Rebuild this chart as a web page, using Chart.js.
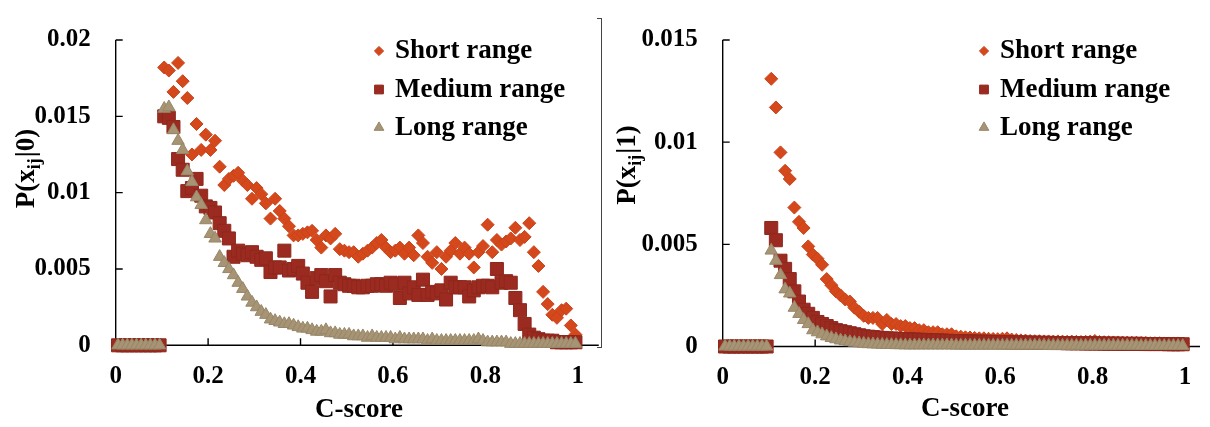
<!DOCTYPE html>
<html><head><meta charset="utf-8">
<script src="https://cdn.jsdelivr.net/npm/chart.js@4.4.1/dist/chart.umd.min.js"></script>
<style>
html,body{margin:0;padding:0;background:#fff;}
#wrap{position:relative;width:1210px;height:427px;overflow:hidden;background:#fff;}
.box{position:absolute;top:0;height:427px;}
#frame{position:absolute;left:597px;top:18px;width:4px;height:328px;border:1px solid #444;border-left:none;z-index:5;}
</style></head><body>
<div id="wrap">
<div class="box" style="left:0;width:600px"><canvas id="c0" width="600" height="427"></canvas></div>
<div class="box" style="left:600px;width:610px"><canvas id="c1" width="610" height="427"></canvas></div>
<div id="frame"></div>
</div>
<script>
// ---------- DATA ----------
const cScore = [0.005,0.015,0.025,0.035,0.045,0.055,0.065,0.075,0.085,0.095,
0.105,0.115,0.125,0.135,0.145,0.155,0.165,0.175,0.185,0.195,
0.205,0.215,0.225,0.235,0.245,0.255,0.265,0.275,0.285,0.295,
0.305,0.315,0.325,0.335,0.345,0.355,0.365,0.375,0.385,0.395,
0.405,0.415,0.425,0.435,0.445,0.455,0.465,0.475,0.485,0.495,
0.505,0.515,0.525,0.535,0.545,0.555,0.565,0.575,0.585,0.595,
0.605,0.615,0.625,0.635,0.645,0.655,0.665,0.675,0.685,0.695,
0.705,0.715,0.725,0.735,0.745,0.755,0.765,0.775,0.785,0.795,
0.805,0.815,0.825,0.835,0.845,0.855,0.865,0.875,0.885,0.895,
0.905,0.915,0.925,0.935,0.945,0.955,0.965,0.975,0.985,0.995];

const seriesLabels = ['Short range','Medium range','Long range'];

// P(x_ij | 0)
const leftShort = [0,0,0,0,0,0,0,0,0,0,
0.0182,0.0180,0.0166,0.0185,0.0173,0.0162,0.0125,0.0145,0.0128,0.0138,
0.0128,0.0134,0.0117,0.0105,0.0109,0.0111,0.0113,0.0108,0.0105,0.0096,
0.0103,0.0099,0.0093,0.0083,0.0096,0.0088,0.0083,0.0078,0.0072,0.0072,
0.0073,0.0074,0.0075,0.0069,0.0064,0.0072,0.0070,0.0073,0.0063,0.0062,
0.0061,0.0061,0.0058,0.0060,0.0062,0.0064,0.0067,0.0069,0.0064,0.0061,
0.0062,0.0064,0.0060,0.0064,0.0059,0.0072,0.0067,0.0058,0.0054,0.0061,
0.0050,0.0058,0.0062,0.0067,0.0060,0.0064,0.0060,0.0051,0.0061,0.0065,
0.0079,0.0061,0.0069,0.0066,0.0068,0.0070,0.0077,0.0069,0.0071,0.0080,
0.0061,0.0052,0.0035,0.0027,0.0020,0.0018,0.0023,0.0024,0.0013,0.0007];
const leftMedium = [0,0,0,0,0,0,0,0,0,0,
0.0150,0.0149,0.0143,0.0122,0.0115,0.0101,0.0103,0.0109,0.0098,0.0091,
0.0090,0.0087,0.0080,0.0075,0.0070,0.0058,0.0062,0.0060,0.0059,0.0061,
0.0058,0.0056,0.0057,0.0048,0.0051,0.0051,0.0062,0.0049,0.0050,0.0052,
0.0047,0.0041,0.0035,0.0044,0.0046,0.0042,0.0032,0.0046,0.0041,0.0040,
0.0039,0.0039,0.0038,0.0038,0.0039,0.0039,0.0040,0.0040,0.0039,0.0041,
0.0040,0.0031,0.0041,0.0034,0.0038,0.0033,0.0043,0.0033,0.0035,0.0034,
0.0036,0.0030,0.0041,0.0038,0.0038,0.0038,0.0032,0.0036,0.0038,0.0039,
0.0039,0.0038,0.0050,0.0041,0.0042,0.0041,0.0031,0.0023,0.0014,0.0007,
0.0005,0.0004,0.0003,0.0003,0.0003,0.0002,0.0002,0.0002,0.0002,0.0002];
const leftLong = [0,0,0,0,0,0,0,0,0,0,
0.0155,0.0156,0.0141,0.0134,0.0128,0.0114,0.0107,0.0097,0.0092,0.0082,
0.0073,0.0070,0.0058,0.0054,0.0050,0.0046,0.0041,0.0037,0.0032,0.0028,
0.0025,0.0022,0.0020,0.0017,0.0016,0.0015,0.0014,0.0014,0.0013,0.0012,
0.0011,0.0011,0.0010,0.0009,0.0009,0.0010,0.0008,0.0008,0.0007,0.0007,
0.0007,0.0006,0.0006,0.0006,0.0005,0.0006,0.0005,0.0005,0.0005,0.0005,
0.0004,0.0005,0.0004,0.0004,0.0004,0.0004,0.0004,0.0003,0.0004,0.0003,
0.0003,0.0003,0.0003,0.0003,0.0003,0.0003,0.0003,0.0003,0.0004,0.0003,
0.0002,0.0002,0.0002,0.0002,0.0002,0.0001,0.0001,0.0001,0.0001,0.0001,
0.0001,0.0001,0.0001,0.0001,0.0001,0.0001,0.0001,0.0001,0.0001,0.0001];

// P(x_ij | 1)
const rightShort = [0,0,0,0,0,0,0,0,0,0,
0.0131,0.0117,0.0095,0.0086,0.0082,0.0068,0.0061,0.0058,0.0049,0.0045,
0.0043,0.0040,0.0033,0.0030,0.0027,0.0025,0.0023,0.0022,0.0019,0.0017,
0.0015,0.0014,0.0014,0.0014,0.0011,0.0013,0.0011,0.0011,0.0010,0.0010,
0.0009,0.0009,0.0008,0.0008,0.0007,0.0007,0.0007,0.0006,0.0006,0.0006,
0.00050,0.00048,0.00045,0.00044,0.00042,0.00040,0.00040,0.00038,0.00037,0.00036,
0.00038,0.00040,0.00034,0.00032,0.00030,0.00029,0.00027,0.00026,0.00026,0.00025,
0.00025,0.00024,0.00025,0.00024,0.00023,0.00024,0.00023,0.00022,0.00023,0.00024,
0.00027,0.00022,0.00021,0.00021,0.00020,0.00020,0.00019,0.00019,0.00018,0.00018,
0.00017,0.00017,0.00016,0.00016,0.00016,0.00015,0.00015,0.00015,0.00015,0.00014];
const rightMedium = [0,0,0,0,0,0,0,0,0,0,
0.0058,0.0052,0.0042,0.0038,0.0033,0.0027,0.0022,0.0018,0.0016,0.0014,
0.0012,0.0011,0.0010,0.0009,0.0008,0.00075,0.0007,0.00065,0.0006,0.00055,
0.0005,0.00048,0.00046,0.00044,0.00042,0.0004,0.00039,0.00038,0.00037,0.00036,
0.00035,0.00034,0.00033,0.00032,0.00031,0.0003,0.0003,0.00029,0.00028,0.00027,
0.00026,0.00026,0.00025,0.00025,0.00024,0.00024,0.00023,0.00023,0.00022,0.00022,
0.00021,0.00021,0.0002,0.0002,0.0002,0.00019,0.00019,0.00019,0.00018,0.00018,
0.00018,0.00017,0.00017,0.00017,0.00016,0.00016,0.00016,0.00016,0.00015,0.00015,
0.00015,0.00015,0.00014,0.00014,0.00014,0.00014,0.00013,0.00013,0.00013,0.00013,
0.00013,0.00012,0.00012,0.00012,0.00012,0.00012,0.00011,0.00011,0.00011,0.00011];
const rightLong = [0,0,0,0,0,0,0,0,0,0,
0.0047,0.0042,0.0035,0.0028,0.0026,0.0019,0.0016,0.0013,0.0011,0.0008,
0.0007,0.0006,0.0005,0.00042,0.00036,0.0003,0.00026,0.00022,0.00019,0.00016,
0.00014,0.00012,0.00011,0.0001,0.00009,0.00008,0.00008,0.00007,0.00007,0.00006,
0.00006,0.00006,0.00006,0.00006,0.00006,0.00006,0.00006,0.00006,0.00006,0.00006,
0.00005,0.00005,0.00005,0.00005,0.00005,0.00005,0.00005,0.00005,0.00005,0.00005,
0.00005,0.00005,0.00005,0.00005,0.00005,0.00005,0.00005,0.00005,0.00005,0.00005,
0.00004,0.00004,0.00004,0.00004,0.00004,0.00004,0.00004,0.00004,0.00004,0.00004,
0.00004,0.00004,0.00004,0.00004,0.00004,0.00004,0.00004,0.00004,0.00004,0.00004,
0.00003,0.00003,0.00003,0.00003,0.00003,0.00003,0.00003,0.00003,0.00003,0.00003];

const xTickValues = [0,0.2,0.4,0.6,0.8,1];
const leftYTicks = [0,0.005,0.01,0.015,0.02];
const rightYTicks = [0,0.005,0.01,0.015];
const xTitle = 'C-score';
const leftYTitle = ['P(x','ij','|0)'];
const rightYTitle = ['P(x','ij','|1)'];

// ---------- STYLE ----------
const SERIF = "'Liberation Serif','Times New Roman',serif";
const colors = [
  {fill:'#D4481B', border:'#C8431A', style:'rectRot', r:6.5, lr:4.6},
  {fill:'#9B2B20', border:'#8E271D', style:'rect', r:9.2, lr:6.2},
  {fill:'#A69474', border:'#978668', style:'triangle', r:7.2, lr:5.6}
];
const fmt = v => String(Number(Number(v).toFixed(4)));

const decor = {
  id: 'decor',
  beforeDatasetsDraw(chart, args, o) {
    const ctx = chart.ctx, a = chart.chartArea, xs = chart.scales.x, ys = chart.scales.y;
    ctx.save();
    ctx.strokeStyle = '#000'; ctx.lineWidth = 1.4;
    ctx.beginPath();
    ctx.moveTo(a.left, a.top); ctx.lineTo(a.left, a.bottom);
    ctx.moveTo(a.left, a.bottom); ctx.lineTo(a.right + o.ext, a.bottom);
    ys.ticks.forEach(t => { if (t.value !== 0) { const y = ys.getPixelForValue(t.value); ctx.moveTo(a.left, y); ctx.lineTo(a.left + 7, y); } });
    xs.ticks.forEach(t => { if (t.value !== 0) { const x = xs.getPixelForValue(t.value); ctx.moveTo(x, a.bottom); ctx.lineTo(x, a.bottom - 7); } });
    ctx.stroke();
    ctx.restore();
  },
  afterDraw(chart, args, o) {
    const ctx = chart.ctx;
    ctx.save();
    ctx.fillStyle = '#000';
    // x title
    ctx.font = 'bold 27px ' + SERIF;
    ctx.textAlign = 'center'; ctx.textBaseline = 'middle';
    ctx.fillText(chart.options.scales.x.title.text, o.xTitle[0], o.xTitle[1]);
    // y title with subscript
    const parts = o.yTitleText;
    const mainF = 'bold 27px ' + SERIF, subF = 'bold 18px ' + SERIF;
    ctx.font = mainF; const w0 = ctx.measureText(parts[0]).width, w2 = ctx.measureText(parts[2]).width;
    ctx.font = subF; const w1 = ctx.measureText(parts[1]).width;
    const tw = w0 + w1 + w2 + 1;
    ctx.translate(o.yTitle[0], o.yTitle[1]);
    ctx.rotate(-Math.PI / 2);
    ctx.textAlign = 'left'; ctx.textBaseline = 'alphabetic';
    let x = -tw / 2; const base = 9;
    ctx.font = mainF; ctx.fillText(parts[0], x, base); x += w0;
    ctx.font = subF; ctx.fillText(parts[1], x, base + 6); x += w1 + 1;
    ctx.font = mainF; ctx.fillText(parts[2], x, base);
    ctx.restore();
    // legend
    ctx.save();
    chart.data.datasets.forEach((ds, i) => {
      const c = colors[i], by = o.legend.base[i];
      ctx.fillStyle = c.fill; ctx.strokeStyle = c.border;
      Chart.helpers.drawPoint(ctx, {pointStyle: c.style, radius: c.lr, rotation: 0, borderWidth: 0.8}, o.legend.mx, by - 7);
      ctx.fillStyle = '#000';
      ctx.font = 'bold 27px ' + SERIF;
      ctx.textAlign = 'left'; ctx.textBaseline = 'alphabetic';
      ctx.fillText(ds.label, o.legend.tx, by);
    });
    ctx.restore();
  }
};

function makeChart(id, cfg) {
  const W = cfg.W, H = 427;
  const tickFont = {family: SERIF, size: 25, weight: 'bold'};
  const datasets = cfg.series.map((vals, i) => ({
    label: seriesLabels[i],
    data: cScore.map((x, k) => ({x: x, y: vals[k]})),
    pointStyle: colors[i].style,
    pointRadius: colors[i].r,
    pointHoverRadius: colors[i].r,
    backgroundColor: colors[i].fill,
    borderColor: colors[i].border,
    pointBorderWidth: 1,
    showLine: false,
    clip: false,
    order: 3 - i
  }));
  return new Chart(document.getElementById(id), {
    type: 'scatter',
    data: {datasets},
    plugins: [decor],
    options: {
      responsive: false, animation: false, devicePixelRatio: 1,
      events: [],
      layout: {padding: {left: 0, right: W - cfg.plot.right, top: cfg.plot.top, bottom: 0}},
      plugins: {
        legend: {display: false}, tooltip: {enabled: false},
        decor: cfg.decor
      },
      scales: {
        x: {
          type: 'linear', min: 0, max: 1,
          afterBuildTicks: s => { s.ticks = xTickValues.map(v => ({value: v})); },
          afterFit: s => { s.height = H - cfg.plot.bottom; },
          grid: {display: false, drawTicks: false},
          border: {display: false},
          ticks: {font: tickFont, color: '#000', padding: 16, autoSkip: false, maxRotation: 0, callback: v => fmt(v)},
          title: {display: false, text: xTitle}
        },
        y: {
          type: 'linear', min: 0, max: cfg.yMax,
          afterBuildTicks: s => { s.ticks = cfg.yTicks.map(v => ({value: v})); },
          afterFit: s => { s.width = cfg.plot.left; },
          grid: {display: false, drawTicks: false},
          border: {display: false},
          ticks: {font: tickFont, color: '#000', padding: 25, autoSkip: false, callback: v => fmt(v)}
        }
      }
    }
  });
}

makeChart('c0', {
  W: 600, series: [leftShort, leftMedium, leftLong], yMax: 0.02, yTicks: leftYTicks,
  plot: {left: 115.7, right: 578.3, top: 19.7, bottom: 345.3},
  decor: {ext: 21, xTitle: [359, 410], yTitle: [25, 168.5], yTitleText: leftYTitle,
          legend: {mx: 379, tx: 395, base: [58, 96.5, 134.5]}}
});
makeChart('c1', {
  W: 610, series: [rightShort, rightMedium, rightLong], yMax: 0.015, yTicks: rightYTicks,
  plot: {left: 122.7, right: 585, top: 18, bottom: 346.5},
  decor: {ext: 15, xTitle: [365, 409], yTitle: [26, 165], yTitleText: rightYTitle,
          legend: {mx: 384, tx: 400, base: [58, 96.5, 134.5]}}
});
</script>
</body></html>
